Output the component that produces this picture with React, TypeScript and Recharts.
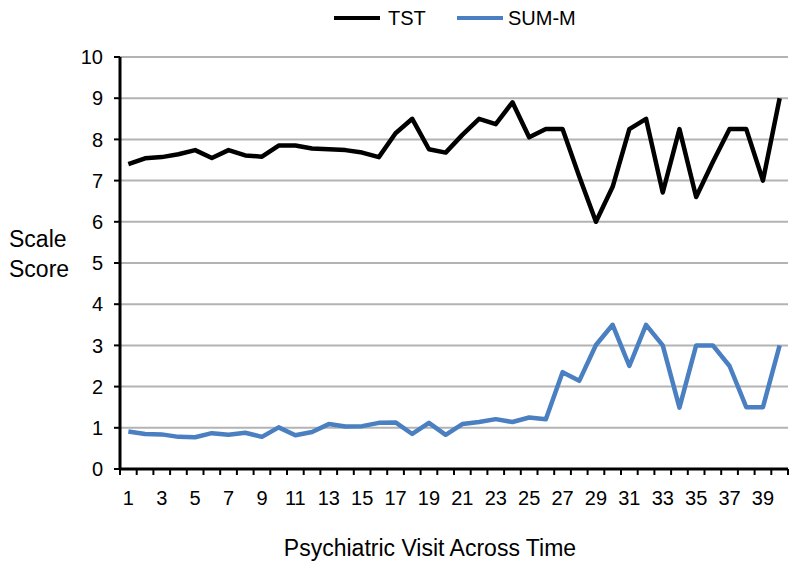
import { CartesianGrid, Line, LineChart, XAxis, YAxis } from "recharts";

const visits = [
  1, 2, 3, 4, 5, 6, 7, 8, 9, 10, 11, 12, 13, 14, 15, 16, 17, 18, 19, 20,
  21, 22, 23, 24, 25, 26, 27, 28, 29, 30, 31, 32, 33, 34, 35, 36, 37, 38, 39, 40,
];

const tst = [
  7.4, 7.54, 7.57, 7.64, 7.74, 7.55, 7.74, 7.61, 7.58, 7.85,
  7.85, 7.78, 7.76, 7.74, 7.68, 7.57, 8.15, 8.5, 7.76, 7.68,
  8.11, 8.5, 8.37, 8.9, 8.05, 8.25, 8.25, 7.1, 6.0, 6.85,
  8.25, 8.5, 6.71, 8.25, 6.6, 7.45, 8.25, 8.25, 7.0, 9.0,
];

const sumM = [
  0.91, 0.85, 0.84, 0.78, 0.77, 0.87, 0.83, 0.88, 0.78, 1.01,
  0.82, 0.9, 1.09, 1.03, 1.04, 1.12, 1.13, 0.85, 1.12, 0.83,
  1.09, 1.14, 1.21, 1.14, 1.25, 1.21, 2.35, 2.14, 3.01, 3.5,
  2.5, 3.5, 3.0, 1.49, 3.0, 3.0, 2.5, 1.5, 1.5, 3.0,
];

const yTicks = [0, 1, 2, 3, 4, 5, 6, 7, 8, 9, 10];

const data = visits.map((v, i) => ({ visit: v, tst: tst[i], sumM: sumM[i] }));

const WIDTH = 800;
const HEIGHT = 572;
const margin = { top: 57, right: 12, left: 0, bottom: 23 };
const Y_AXIS_W = 120;
const plotW = WIDTH - margin.left - margin.right - Y_AXIS_W;
const bandW = plotW / visits.length;

const FONT = "'Liberation Sans', Arial, sans-serif";
const BLUE = "#4a7fc1";

function VisitTick(props: any) {
  const { x, y, payload, index } = props;
  const last = index === visits.length - 1;
  return (
    <g>
      <line x1={x - bandW / 2} x2={x - bandW / 2} y1={y} y2={y + 6} stroke="#000" strokeWidth={2} />
      {last && (
        <line x1={x + bandW / 2} x2={x + bandW / 2} y1={y} y2={y + 6} stroke="#000" strokeWidth={2} />
      )}
      {payload.value % 2 === 1 && (
        <text x={x} y={y + 36} textAnchor="middle" fontSize={20} fontFamily={FONT} fill="#000">
          {payload.value}
        </text>
      )}
    </g>
  );
}

function YTitle(props: any) {
  const vb = props.viewBox;
  const mid = vb.y + vb.height / 2;
  return (
    <g fontFamily={FONT} fontSize={23} fill="#000">
      <text x={vb.x + 9} y={mid - 16}>Scale</text>
      <text x={vb.x + 9} y={mid + 14}>Score</text>
    </g>
  );
}

function XTitle(props: any) {
  const vb = props.viewBox;
  return (
    <text x={vb.x + 310} y={vb.y + 87} textAnchor="middle" fontFamily={FONT} fontSize={23} fill="#000">
      Psychiatric Visit Across Time
    </text>
  );
}

export default function App() {
  return (
    <div style={{ position: "absolute", left: 0, top: 0, width: WIDTH, height: HEIGHT, background: "#fff" }}>
      <LineChart width={WIDTH} height={HEIGHT} data={data} margin={margin}>
        <CartesianGrid vertical={false} stroke="#b3b3b3" strokeWidth={2} />
        <XAxis
          dataKey="visit"
          type="number"
          domain={[0.5, 40.5]}
          ticks={visits}
          interval={0}
          height={80}
          tickSize={0}
          tickMargin={0}
          tickLine={false}
          tick={<VisitTick />}
          axisLine={{ stroke: "#000", strokeWidth: 3 }}
          label={XTitle}
        />
        <YAxis
          width={Y_AXIS_W}
          domain={[0, 10]}
          ticks={yTicks}
          interval={0}
          tickSize={6}
          tickMargin={11}
          tickLine={{ stroke: "#000", strokeWidth: 2 }}
          axisLine={{ stroke: "#000", strokeWidth: 3 }}
          tick={{ fontSize: 20, fontFamily: FONT, fill: "#000" }}
          label={YTitle}
        />
        <Line
          type="linear"
          dataKey="tst"
          name="TST"
          stroke="#000"
          strokeWidth={4.5}
          strokeLinejoin="round"
          dot={false}
          isAnimationActive={false}
        />
        <Line
          type="linear"
          dataKey="sumM"
          name="SUM-M"
          stroke={BLUE}
          strokeWidth={4.5}
          strokeLinejoin="round"
          dot={false}
          isAnimationActive={false}
        />
      </LineChart>
      <div style={{ position: "absolute", left: 334, top: 6, height: 24, display: "flex", alignItems: "center", fontFamily: FONT, fontSize: 20 }}>
        <span style={{ display: "inline-block", width: 46, height: 4, background: "#000" }} />
        <span style={{ marginLeft: 8 }}>TST</span>
      </div>
      <div style={{ position: "absolute", left: 457, top: 6, height: 24, display: "flex", alignItems: "center", fontFamily: FONT, fontSize: 20 }}>
        <span style={{ display: "inline-block", width: 46, height: 4, background: BLUE }} />
        <span style={{ marginLeft: 5 }}>SUM-M</span>
      </div>
    </div>
  );
}
